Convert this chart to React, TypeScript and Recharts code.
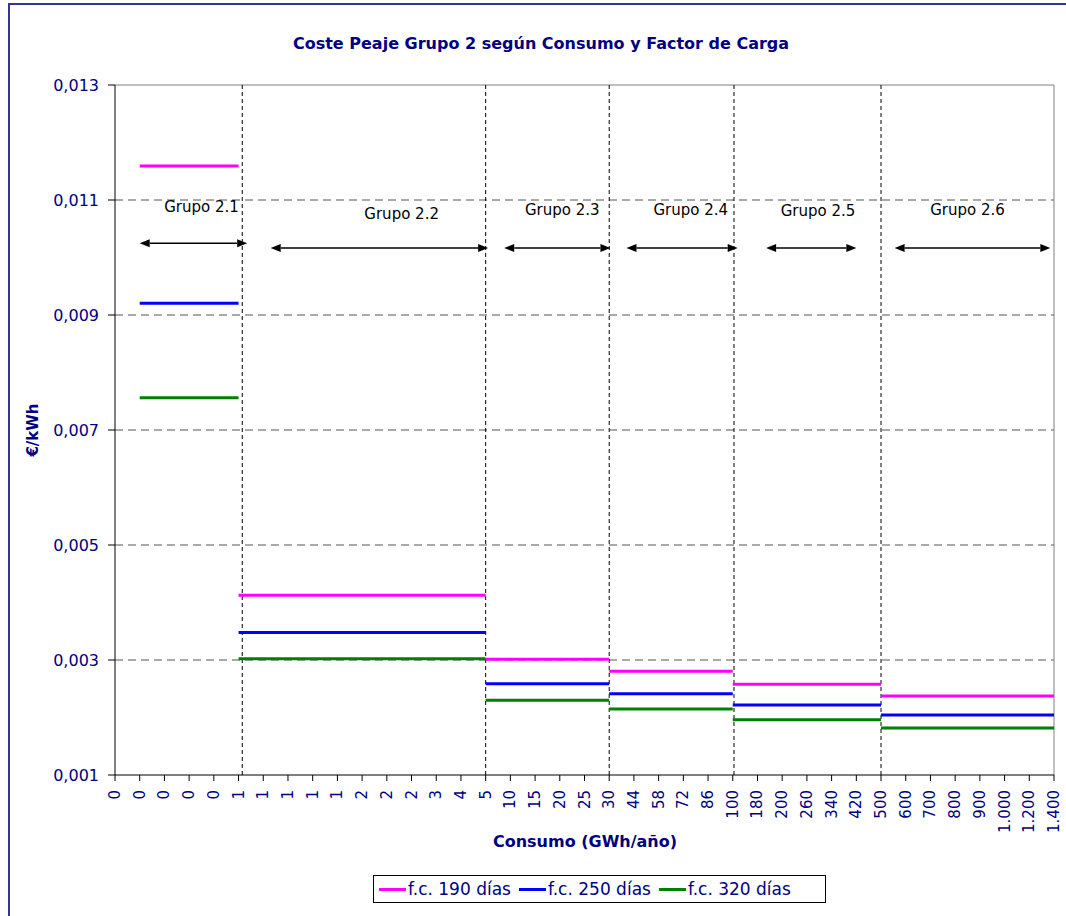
import React from "react"
import {
  LineChart,
  Line,
  XAxis,
  YAxis,
  ReferenceLine,
  ReferenceDot
} from "recharts"

// consumption categories (GWh/año) as printed under the axis
const xLabels = [
  "0", "0", "0", "0", "0", "1", "1", "1", "1", "1", "2", "2", "2", "3", "4", "5",
  "10", "15", "20", "25", "30", "44", "58", "72", "86", "100",
  "180", "200", "260", "340", "420", "500",
  "600", "700", "800", "900", "1.000", "1.200", "1.400"
]

const groupNames = ["Grupo 2.1", "Grupo 2.2", "Grupo 2.3", "Grupo 2.4", "Grupo 2.5", "Grupo 2.6"]
// first / last category index covered by each tariff group
const groupStart = [1, 5, 15, 20, 25, 31]
const groupEnd = [5, 15, 20, 25, 31, 38]

// €/kWh per group
const fc190 = [0.01159, 0.004125, 0.003012, 0.002803, 0.002577, 0.002374]
const fc250 = [0.009203, 0.00348, 0.002588, 0.002414, 0.002217, 0.002043]
const fc320 = [0.007562, 0.003023, 0.0023, 0.002148, 0.001962, 0.001817]

const yTicks = [0.001, 0.003, 0.005, 0.007, 0.009, 0.011, 0.013]

const series = [
  { key: "a", name: "f.c. 190 días", values: fc190, color: "#FF00FF" },
  { key: "b", name: "f.c. 250 días", values: fc250, color: "#0000FF" },
  { key: "c", name: "f.c. 320 días", values: fc320, color: "#008000" }
]

// annotation placement (in axis units)
const dividers = [5.15, 15, 20, 25.05, 31]
const arrows = [
  { from: 1.0, to: 5.35, y: 0.01025, lx: 3.5, ly: 0.01088 },
  { from: 6.3, to: 15.1, y: 0.010165, lx: 11.6, ly: 0.01077 },
  { from: 15.75, to: 20.05, y: 0.010165, lx: 18.1, ly: 0.01083 },
  { from: 20.7, to: 25.2, y: 0.010165, lx: 23.3, ly: 0.01083 },
  { from: 26.35, to: 30.0, y: 0.010165, lx: 28.45, ly: 0.01081 },
  { from: 31.55, to: 37.85, y: 0.010165, lx: 34.5, ly: 0.01084 }
]

const data = xLabels.map((_, i) => {
  const row: any = { i }
  groupNames.forEach((_, g) => {
    if (i >= groupStart[g] && i <= groupEnd[g]) {
      series.forEach(s => {
        row[`${s.key}${g}`] = s.values[g]
      })
    }
  })
  return row
})

const NAVY = "#000080"
const FONT = "'DejaVu Sans', 'Liberation Sans', Arial, sans-serif"

const XTick = (props: any) => {
  const { x, y, payload } = props
  const ty = y + 7
  return (
    <text
      x={x}
      y={ty}
      transform={`rotate(-90, ${x}, ${ty})`}
      textAnchor="end"
      dominantBaseline="central"
      fill={NAVY}
      fontSize={15}
      fontFamily={FONT}
    >
      {xLabels[payload.value]}
    </text>
  )
}

const Arrow = (p: any) => {
  const { x1, y1, x2, y2 } = p
  const h = 10
  const w = 4
  return (
    <g>
      <line x1={x1 + h} y1={y1} x2={x2 - h} y2={y2} stroke="#000" strokeWidth={1.5} />
      <polygon points={`${x1},${y1} ${x1 + h},${y1 - w} ${x1 + h},${y1 + w}`} fill="#000" />
      <polygon points={`${x2},${y2} ${x2 - h},${y2 - w} ${x2 - h},${y2 + w}`} fill="#000" />
    </g>
  )
}

export default function App() {
  return (
    <div
      style={{
        position: "absolute",
        left: 0,
        top: 0,
        width: 1066,
        height: 916,
        background: "#fff",
        overflow: "hidden",
        fontFamily: FONT
      }}
    >
      <div
        style={{
          position: "absolute",
          left: 8,
          top: 3,
          width: 1100,
          height: 960,
          borderLeft: "2px solid #333399",
          borderTop: "2px solid #333399"
        }}
      />

      <div
        style={{
          position: "absolute",
          left: 0,
          width: 1082,
          top: 34,
          textAlign: "center",
          fontWeight: "bold",
          fontSize: 16,
          color: NAVY
        }}
      >
        Coste Peaje Grupo 2 según Consumo y Factor de Carga
      </div>

      <div
        style={{
          position: "absolute",
          left: 33,
          top: 430,
          transform: "translate(-50%, -50%) rotate(-90deg)",
          fontWeight: "bold",
          fontSize: 15,
          color: NAVY,
          whiteSpace: "nowrap"
        }}
      >
        €/kWh
      </div>

      <div
        style={{
          position: "absolute",
          left: 0,
          width: 1170,
          top: 832,
          textAlign: "center",
          fontWeight: "bold",
          fontSize: 16,
          color: NAVY
        }}
      >
        Consumo (GWh/año)
      </div>

      <div style={{ position: "absolute", left: 0, top: 0 }}>
        <LineChart
          width={1066}
          height={916}
          data={data}
          margin={{ top: 85, right: 12, bottom: 71, left: 0 }}
        >
          <XAxis
            dataKey="i"
            type="number"
            domain={[0, 38]}
            ticks={xLabels.map((_, i) => i)}
            interval={0}
            height={70}
            tickSize={6}
            tick={<XTick />}
            axisLine={{ stroke: "#000" }}
            tickLine={{ stroke: "#000" }}
          />
          <YAxis
            type="number"
            domain={[0.001, 0.013]}
            ticks={yTicks}
            interval={0}
            width={115}
            tickSize={7}
            tickMargin={9}
            allowDataOverflow
            tickFormatter={(v: number) => v.toFixed(3).replace(".", ",")}
            tick={{ fill: NAVY, fontSize: 16, fontFamily: FONT }}
            axisLine={{ stroke: "#000" }}
            tickLine={{ stroke: "#000" }}
          />

          {yTicks.slice(1, -1).map(v => (
            <ReferenceLine key={`h${v}`} y={v} stroke="#555" strokeDasharray="8 5" />
          ))}
          <ReferenceLine y={0.013} stroke="#808080" />
          <ReferenceLine x={38} stroke="#808080" />
          {dividers.map(v => (
            <ReferenceLine key={`v${v}`} x={v} stroke="#000" strokeDasharray="4 3" />
          ))}

          {arrows.map((a, g) => (
            <ReferenceLine
              key={`arr${g}`}
              segment={[{ x: a.from, y: a.y }, { x: a.to, y: a.y }]}
              shape={(p: any) => <Arrow {...p} />}
            />
          ))}
          {arrows.map((a, g) => (
            <ReferenceDot
              key={`lab${g}`}
              x={a.lx}
              y={a.ly}
              r={0}
              fill="none"
              stroke="none"
              label={{ value: groupNames[g], position: "center", fill: "#000", fontSize: 15, fontFamily: FONT }}
            />
          ))}

          {groupNames.map((_, g) =>
            series.map(s => (
              <Line
                key={`${s.key}${g}`}
                dataKey={`${s.key}${g}`}
                type="linear"
                stroke={s.color}
                strokeWidth={3}
                dot={false}
                activeDot={false}
                connectNulls={false}
                isAnimationActive={false}
              />
            ))
          )}
        </LineChart>
      </div>

      <div
        style={{
          position: "absolute",
          left: 373,
          top: 875,
          width: 453,
          height: 28,
          border: "1px solid #000",
          display: "flex",
          alignItems: "center",
          paddingLeft: 5,
          boxSizing: "border-box",
          fontSize: 17,
          color: NAVY
        }}
      >
        {series.map(s => (
          <div key={s.key} style={{ display: "flex", alignItems: "center", marginRight: 8 }}>
            <span style={{ display: "inline-block", width: 27, height: 3, background: s.color, marginRight: 2 }} />
            <span>{s.name}</span>
          </div>
        ))}
      </div>
    </div>
  )
}
